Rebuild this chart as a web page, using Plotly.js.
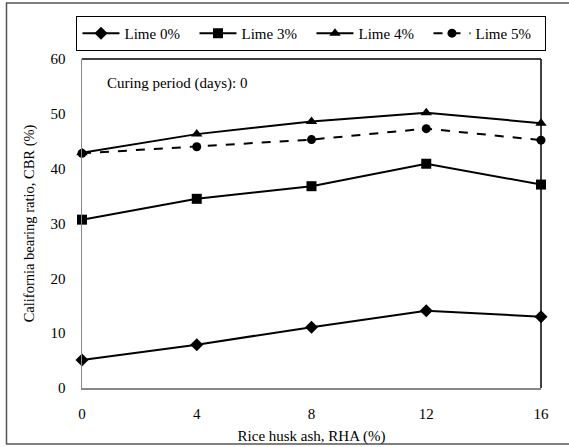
<!DOCTYPE html>
<html>
<head>
<meta charset="utf-8">
<script src="https://cdn.plot.ly/plotly-3.0.1.min.js"></script>
<style>html,body{margin:0;padding:0;background:#fff}#chart{width:569px;height:447px}</style>
</head>
<body>
<div id="chart"></div>
<script>
const rha = [0, 4, 8, 12, 16];
const lime0 = [5.1, 7.9, 11.1, 14.1, 13.0];
const lime3 = [30.7, 34.5, 36.8, 40.9, 37.1];
const lime4 = [42.9, 46.3, 48.6, 50.2, 48.3];
const lime5 = [42.8, 44.0, 45.3, 47.3, 45.2];
const seriesNames = ["Lime 0%", "Lime 3%", "Lime 4%", "Lime 5%"];
const xTicks = [0, 4, 8, 12, 16];
const yTicks = [0, 10, 20, 30, 40, 50, 60];

const font = "Liberation Serif";
function tr(y, name, sym, size, dash) {
  return {x: rha, y: y, name: name, type: "scatter", mode: "lines+markers",
    line: {color: "#000", width: 2, dash: dash || "solid"},
    marker: {symbol: sym, size: size, color: "#000"}, cliponaxis: false};
}
const data = [
  tr(lime0, seriesNames[0], "diamond", 10),
  tr(lime3, seriesNames[1], "square", 10),
  tr(lime4, seriesNames[2], "triangle-up", 10),
  tr(lime5, seriesNames[3], "circle", 9, "dash")
];
const layout = {
  width: 569, height: 447,
  margin: {l: 82, r: 28, t: 59, b: 59},
  paper_bgcolor: "#fff", plot_bgcolor: "#fff",
  font: {family: font, size: 15, color: "#000"},
  showlegend: true,
  legend: {orientation: "h", x: -0.012, xanchor: "left", y: 1.131, yanchor: "top",
    bordercolor: "#000", borderwidth: 1, font: {family: font, size: 15},
    entrywidth: 65, entrywidthmode: "pixels", itemwidth: 37, tracegroupgap: 0},
  xaxis: {range: [0, 16], tickvals: xTicks, ticks: "", showgrid: false, zeroline: false,
    showline: true, linecolor: "#888", linewidth: 1.5, ticklabelstandoff: 11,
    tickfont: {family: font, size: 15},
    title: {text: "Rice husk ash, RHA (%)", font: {family: font, size: 15}, standoff: 10}},
  yaxis: {range: [0, 60], tickvals: yTicks, ticks: "", showgrid: false, zeroline: false,
    showline: true, linecolor: "#888", linewidth: 1.5, ticklabelstandoff: 12,
    tickfont: {family: font, size: 15},
    title: {text: "California bearing ratio, CBR (%)", font: {family: font, size: 14.5}, standoff: 12}},
  shapes: [
    {type: "line", xref: "paper", yref: "paper", x0: 0, x1: 1, y0: 1, y1: 1, line: {color: "#000", width: 1.5}},
    {type: "line", xref: "paper", yref: "paper", x0: 1, x1: 1, y0: 0, y1: 1, line: {color: "#000", width: 1.5}},
    {type: "rect", xref: "paper", yref: "paper", x0: -0.1645, x1: 1.08, y0: -0.1702, y1: 1.1702, line: {color: "#555", width: 1.5}}
  ],
  annotations: [
    {text: "Curing period (days): 0", xref: "paper", yref: "paper", x: 0.05, y: 0.925,
      xanchor: "left", yanchor: "middle", showarrow: false, font: {family: font, size: 15}}
  ]
};
Plotly.newPlot("chart", data, layout, {displayModeBar: false, staticPlot: true});
</script>
</body>
</html>
